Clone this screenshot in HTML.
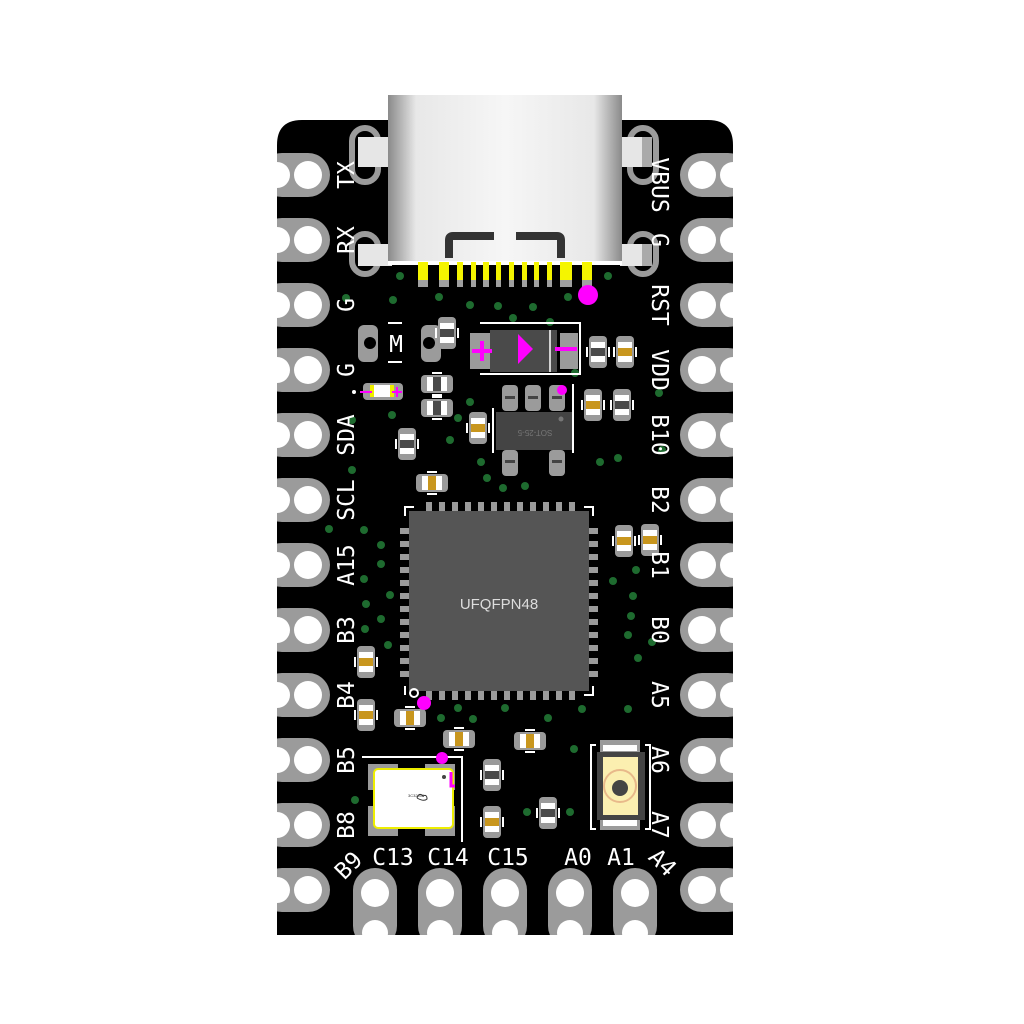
<!DOCTYPE html>
<html><head><meta charset="utf-8"><style>
html,body{margin:0;padding:0;background:#fff;}
svg{display:block}
.t{font-family:"DejaVu Sans Mono","Liberation Mono",monospace;font-size:23px;fill:#fff;}
</style></head><body>
<svg width="1024" height="1024" viewBox="0 0 1024 1024" xmlns="http://www.w3.org/2000/svg">
<defs>
<g id="cv"><rect x="-9" y="-16" width="18" height="32" rx="4" fill="#9a9a9a"/><rect x="-7" y="-10" width="14" height="6" fill="#fff"/><rect x="-7" y="4" width="14" height="6" fill="#fff"/><rect x="-12" y="-5" width="2" height="10" fill="#fff"/><rect x="10" y="-5" width="2" height="10" fill="#fff"/></g>
<g id="gv"><use href="#cv"/><rect x="-7" y="-4" width="14" height="8" fill="#c8961e"/></g>
<g id="dv"><use href="#cv"/><rect x="-7" y="-4" width="14" height="8" fill="#4a4a4a"/></g>
<g id="gh"><g transform="rotate(90)"><use href="#gv"/></g></g>
<g id="dh"><g transform="rotate(90)"><use href="#dv"/></g></g>
<g id="lp"><rect x="260" y="-22" width="70" height="44" rx="22" fill="#9b9b9b"/><circle cx="308" cy="0" r="14" fill="#fff"/><circle cx="277" cy="0" r="13" fill="#fff"/></g>
<g id="rp"><rect x="680" y="-22" width="70" height="44" rx="22" fill="#9b9b9b"/><circle cx="702" cy="0" r="14" fill="#fff"/><circle cx="733" cy="0" r="13" fill="#fff"/></g>
<g id="bp"><rect x="-22" y="868" width="44" height="80" rx="22" fill="#9b9b9b"/><circle cx="0" cy="893" r="14" fill="#fff"/><circle cx="0" cy="933" r="13" fill="#fff"/></g>
<linearGradient id="usb" x1="0" x2="1" y1="0" y2="0"><stop offset="0" stop-color="#8a8a8a"/><stop offset="0.12" stop-color="#e8e8e8"/><stop offset="0.5" stop-color="#f6f6f6"/><stop offset="0.88" stop-color="#e8e8e8"/><stop offset="1" stop-color="#8a8a8a"/></linearGradient>
</defs>
<rect width="1024" height="1024" fill="#fff"/>
<path d="M277 145 Q277 120 302 120 L708 120 Q733 120 733 145 L733 935 L277 935 Z" fill="#000"/>
<g>
<use href="#lp" y="175"/><use href="#lp" y="240"/><use href="#lp" y="305"/><use href="#lp" y="370"/><use href="#lp" y="435"/><use href="#lp" y="500"/><use href="#lp" y="565"/><use href="#lp" y="630"/><use href="#lp" y="695"/><use href="#lp" y="760"/><use href="#lp" y="825"/><use href="#lp" y="890"/>
<use href="#rp" y="175"/><use href="#rp" y="240"/><use href="#rp" y="305"/><use href="#rp" y="370"/><use href="#rp" y="435"/><use href="#rp" y="500"/><use href="#rp" y="565"/><use href="#rp" y="630"/><use href="#rp" y="695"/><use href="#rp" y="760"/><use href="#rp" y="825"/><use href="#rp" y="890"/>
<use href="#bp" x="375"/><use href="#bp" x="440"/><use href="#bp" x="505"/><use href="#bp" x="570"/><use href="#bp" x="635"/>
</g>
<rect x="0" y="935" width="1024" height="89" fill="#fff"/>
<rect x="0" y="0" width="277" height="1024" fill="#fff"/><rect x="733" y="0" width="291" height="1024" fill="#fff"/>
<g>
<rect x="352" y="128" width="26" height="54" rx="13" fill="none" stroke="#9b9b9b" stroke-width="6"/>
<rect x="352" y="234" width="26" height="40" rx="13" fill="none" stroke="#9b9b9b" stroke-width="6"/>
<rect x="630" y="128" width="26" height="54" rx="13" fill="none" stroke="#9b9b9b" stroke-width="6"/>
<rect x="630" y="234" width="26" height="40" rx="13" fill="none" stroke="#9b9b9b" stroke-width="6"/>
<rect x="358" y="137" width="34" height="30" fill="#e6e6e6"/><rect x="358" y="244" width="34" height="22" fill="#e6e6e6"/>
<rect x="620" y="137" width="32" height="30" fill="#e6e6e6"/><rect x="620" y="244" width="32" height="22" fill="#e6e6e6"/>
<rect x="642" y="137" width="10" height="30" fill="#aaa"/><rect x="642" y="244" width="10" height="22" fill="#aaa"/>
</g>
<rect x="388" y="95" width="234" height="170" fill="url(#usb)"/>
<rect x="388" y="261" width="234" height="4" fill="#fff"/>
<path d="M449 258 L449 240 Q449 236 453 236 L494 236" stroke="#333" stroke-width="8" fill="none"/>
<path d="M516 236 L557 236 Q561 236 561 240 L561 258" stroke="#333" stroke-width="8" fill="none"/>
<g fill="#a0a0a0">
<rect x="418" y="265" width="10" height="22"/><rect x="439" y="265" width="10" height="22"/><rect x="457" y="265" width="6" height="22"/><rect x="471" y="265" width="5" height="22"/><rect x="483" y="265" width="6" height="22"/><rect x="496" y="265" width="5" height="22"/><rect x="509" y="265" width="5" height="22"/><rect x="522" y="265" width="5" height="22"/><rect x="534" y="265" width="5" height="22"/><rect x="547" y="265" width="5" height="22"/><rect x="560" y="265" width="12" height="22"/><rect x="582" y="265" width="10" height="22"/>
</g>
<g fill="#f5f500">
<rect x="418" y="262" width="10" height="18"/><rect x="439" y="262" width="10" height="18"/><rect x="457" y="262" width="6" height="18"/><rect x="471" y="262" width="5" height="18"/><rect x="483" y="262" width="6" height="18"/><rect x="496" y="262" width="5" height="18"/><rect x="509" y="262" width="5" height="18"/><rect x="522" y="262" width="5" height="18"/><rect x="534" y="262" width="5" height="18"/><rect x="547" y="262" width="5" height="18"/><rect x="560" y="262" width="12" height="18"/><rect x="582" y="262" width="10" height="18"/>
</g>
<circle cx="588" cy="295" r="10" fill="#f0f"/>
<g fill="#1e6b2f">
<circle cx="400" cy="276" r="4"/><circle cx="393" cy="300" r="4"/><circle cx="439" cy="297" r="4"/><circle cx="470" cy="305" r="4"/><circle cx="498" cy="306" r="4"/><circle cx="533" cy="307" r="4"/><circle cx="568" cy="297" r="4"/><circle cx="608" cy="276" r="4"/><circle cx="513" cy="318" r="4"/><circle cx="550" cy="322" r="4"/><circle cx="575" cy="373" r="4"/>
<circle cx="346" cy="298" r="4"/><circle cx="470" cy="402" r="4"/><circle cx="392" cy="415" r="4"/><circle cx="352" cy="420" r="4"/><circle cx="458" cy="418" r="4"/><circle cx="450" cy="440" r="4"/><circle cx="481" cy="462" r="4"/><circle cx="487" cy="478" r="4"/><circle cx="503" cy="488" r="4"/><circle cx="525" cy="486" r="4"/><circle cx="352" cy="470" r="4"/><circle cx="600" cy="462" r="4"/><circle cx="618" cy="458" r="4"/><circle cx="659" cy="393" r="4"/><circle cx="662" cy="450" r="4"/>
<circle cx="329" cy="529" r="4"/><circle cx="364" cy="530" r="4"/><circle cx="381" cy="545" r="4"/><circle cx="381" cy="564" r="4"/><circle cx="364" cy="579" r="4"/><circle cx="390" cy="595" r="4"/><circle cx="366" cy="604" r="4"/><circle cx="381" cy="619" r="4"/><circle cx="365" cy="629" r="4"/><circle cx="388" cy="645" r="4"/>
<circle cx="636" cy="570" r="4"/><circle cx="613" cy="581" r="4"/><circle cx="633" cy="596" r="4"/><circle cx="631" cy="616" r="4"/><circle cx="628" cy="635" r="4"/><circle cx="652" cy="642" r="4"/><circle cx="638" cy="658" r="4"/><circle cx="628" cy="709" r="4"/><circle cx="582" cy="709" r="4"/><circle cx="548" cy="718" r="4"/><circle cx="505" cy="708" r="4"/><circle cx="458" cy="708" r="4"/><circle cx="441" cy="718" r="4"/><circle cx="473" cy="719" r="4"/><circle cx="574" cy="749" r="4"/><circle cx="355" cy="800" r="4"/><circle cx="527" cy="812" r="4"/><circle cx="570" cy="812" r="4"/>
</g>
<rect x="358" y="325" width="20" height="37" rx="6" fill="#9b9b9b"/><rect x="421" y="325" width="20" height="37" rx="6" fill="#9b9b9b"/>
<circle cx="370" cy="343" r="6" fill="#000"/><circle cx="429" cy="343" r="6" fill="#000"/>
<line x1="388" y1="323" x2="402" y2="323" stroke="#fff" stroke-width="2"/><line x1="388" y1="362" x2="402" y2="362" stroke="#fff" stroke-width="2"/>
<text class="t" x="396" y="352" text-anchor="middle" font-size="20">M</text>
<path d="M480 323 L580 323 L580 374 L480 374" stroke="#fff" stroke-width="2" fill="none"/>
<rect x="470" y="333" width="20" height="36" fill="#9b9b9b"/><rect x="560" y="333" width="18" height="36" fill="#9b9b9b"/>
<rect x="490" y="330" width="67" height="42" fill="#4a4a4a"/><line x1="550" y1="330" x2="550" y2="372" stroke="#fff" stroke-width="1.5"/>
<path d="M472 351 L492 351 M482 341 L482 361" stroke="#f0f" stroke-width="4"/>
<path d="M518 334 L533 349 L518 364 Z" fill="#f0f"/>
<path d="M555 349 L577 349" stroke="#f0f" stroke-width="4"/>
<circle cx="354" cy="392" r="2" fill="#fff"/>
<rect x="363" y="383" width="40" height="17" rx="4" fill="#9b9b9b"/><rect x="370" y="385" width="24" height="12" fill="#fff"/><rect x="370" y="385" width="4" height="12" fill="#ee0"/><rect x="390" y="385" width="4" height="12" fill="#ee0"/>
<path d="M360 392 L372 392 M392 392 L402 392 M397 387 L397 397" stroke="#f0f" stroke-width="2"/>
<g fill="#9b9b9b"><rect x="502" y="385" width="16" height="26" rx="4"/><rect x="525" y="385" width="16" height="26" rx="4"/><rect x="549" y="385" width="16" height="26" rx="4"/><rect x="502" y="450" width="16" height="26" rx="4"/><rect x="549" y="450" width="16" height="26" rx="4"/></g>
<g fill="#444"><rect x="505" y="396" width="10" height="3"/><rect x="528" y="396" width="10" height="3"/><rect x="552" y="396" width="10" height="3"/><rect x="505" y="460" width="10" height="3"/><rect x="552" y="460" width="10" height="3"/></g>
<rect x="496" y="412" width="78" height="38" fill="#444"/>
<circle cx="561" cy="419" r="2.5" fill="#777"/>
<text x="535" y="436" font-family="Liberation Sans,sans-serif" font-size="8" fill="#777" text-anchor="middle" transform="rotate(180 535 433)">SOT-25-5</text>
<line x1="493" y1="408" x2="493" y2="453" stroke="#fff" stroke-width="2"/><line x1="573" y1="384" x2="573" y2="453" stroke="#fff" stroke-width="2"/>
<circle cx="562" cy="390" r="5" fill="#f0f"/>
<use href="#dv" x="447" y="333"/><use href="#dv" x="598" y="352"/><use href="#gv" x="625" y="352"/>
<use href="#gv" x="593" y="405"/><use href="#dv" x="622" y="405"/><use href="#dv" x="407" y="444"/><use href="#gv" x="478" y="428"/>
<use href="#gv" x="366" y="662"/><use href="#gv" x="366" y="715"/><use href="#dv" x="492" y="775"/><use href="#gv" x="492" y="822"/><use href="#dv" x="548" y="813"/>
<use href="#gv" x="624" y="541"/><use href="#gv" x="650" y="540"/>
<use href="#dh" x="437" y="384"/><use href="#dh" x="437" y="408"/><use href="#gh" x="432" y="483"/>
<use href="#gh" x="410" y="718"/><use href="#gh" x="459" y="739"/><use href="#gh" x="530" y="741"/>
<g fill="#9b9b9b">
<g id="tp"><rect x="426" y="502" width="6" height="10"/><rect x="439" y="502" width="6" height="10"/><rect x="452" y="502" width="6" height="10"/><rect x="465" y="502" width="6" height="10"/><rect x="478" y="502" width="6" height="10"/><rect x="491" y="502" width="6" height="10"/><rect x="504" y="502" width="6" height="10"/><rect x="517" y="502" width="6" height="10"/><rect x="530" y="502" width="6" height="10"/><rect x="543" y="502" width="6" height="10"/><rect x="556" y="502" width="6" height="10"/><rect x="569" y="502" width="6" height="10"/></g>
<use href="#tp" y="188"/>
<g transform="rotate(90 499 601)"><use href="#tp"/><use href="#tp" y="188"/></g>
</g>
<rect x="409" y="511" width="180" height="180" fill="#555"/>
<path d="M405 516 L405 507 L414 507 M584 507 L593 507 L593 516 M405 686 L405 695 M593 686 L593 695 L584 695" stroke="#fff" stroke-width="2" fill="none"/>
<circle cx="414" cy="693" r="4" fill="none" stroke="#fff" stroke-width="2"/>
<circle cx="424" cy="703" r="7" fill="#f0f"/>
<text x="499" y="609" font-family="Liberation Sans,sans-serif" font-size="15" fill="#ddd" text-anchor="middle">UFQFPN48</text>
<path d="M362 757 L462 757 L462 842" stroke="#fff" stroke-width="2" fill="none"/>
<rect x="368" y="764" width="30" height="26" fill="#9b9b9b"/><rect x="425" y="764" width="30" height="26" fill="#9b9b9b"/><rect x="368" y="806" width="30" height="30" fill="#9b9b9b"/><rect x="425" y="806" width="30" height="30" fill="#9b9b9b"/>
<rect x="374" y="769" width="79" height="59" rx="4" fill="#fff" stroke="#ee0" stroke-width="2"/>
<circle cx="444" cy="777" r="2" fill="#444"/>
<path d="M451 772 L451 786 L455 786" stroke="#f0f" stroke-width="3" fill="none"/>
<circle cx="442" cy="758" r="6" fill="#f0f"/>
<text x="408" y="797" font-family="Liberation Sans,sans-serif" font-size="4" fill="#333">3C32000</text>
<path d="M417 798 q2 -6 6 -2 q4 -2 4 3 q-3 3 -10 -1" stroke="#333" fill="none"/>
<path d="M596 745 L591 745 L591 829 L596 829 M645 745 L650 745 L650 829 L645 829" stroke="#fff" stroke-width="2" fill="none"/>
<rect x="600" y="740" width="40" height="90" fill="#9b9b9b"/>
<rect x="603" y="745" width="34" height="6" fill="#fff"/><rect x="603" y="819" width="34" height="7" fill="#fff"/>
<rect x="597" y="752" width="48" height="68" fill="#444"/>
<rect x="603" y="757" width="35" height="58" fill="#fbefb0"/>
<circle cx="620" cy="786" r="16" fill="none" stroke="#e8b98a" stroke-width="2"/>
<circle cx="620" cy="788" r="8" fill="#444"/>
<g class="t">
<text transform="translate(354 175) rotate(-90)" text-anchor="middle">TX</text>
<text transform="translate(354 240) rotate(-90)" text-anchor="middle">RX</text>
<text transform="translate(354 305) rotate(-90)" text-anchor="middle">G</text>
<text transform="translate(354 370) rotate(-90)" text-anchor="middle">G</text>
<text transform="translate(354 435) rotate(-90)" text-anchor="middle">SDA</text>
<text transform="translate(354 500) rotate(-90)" text-anchor="middle">SCL</text>
<text transform="translate(354 565) rotate(-90)" text-anchor="middle">A15</text>
<text transform="translate(354 630) rotate(-90)" text-anchor="middle">B3</text>
<text transform="translate(354 695) rotate(-90)" text-anchor="middle">B4</text>
<text transform="translate(354 760) rotate(-90)" text-anchor="middle">B5</text>
<text transform="translate(354 825) rotate(-90)" text-anchor="middle">B8</text>
<text transform="translate(652 185) rotate(90)" text-anchor="middle">VBUS</text>
<text transform="translate(652 240) rotate(90)" text-anchor="middle">G</text>
<text transform="translate(652 305) rotate(90)" text-anchor="middle">RST</text>
<text transform="translate(652 370) rotate(90)" text-anchor="middle">VDD</text>
<text transform="translate(652 435) rotate(90)" text-anchor="middle">B10</text>
<text transform="translate(652 500) rotate(90)" text-anchor="middle">B2</text>
<text transform="translate(652 565) rotate(90)" text-anchor="middle">B1</text>
<text transform="translate(652 630) rotate(90)" text-anchor="middle">B0</text>
<text transform="translate(652 695) rotate(90)" text-anchor="middle">A5</text>
<text transform="translate(652 760) rotate(90)" text-anchor="middle">A6</text>
<text transform="translate(652 825) rotate(90)" text-anchor="middle">A7</text>
<text transform="translate(354 871) rotate(-45)" text-anchor="middle">B9</text>
<text x="393" y="865" text-anchor="middle">C13</text>
<text x="448" y="865" text-anchor="middle">C14</text>
<text x="508" y="865" text-anchor="middle">C15</text>
<text x="578" y="865" text-anchor="middle">A0</text>
<text x="621" y="865" text-anchor="middle">A1</text>
<text transform="translate(657 868) rotate(45)" text-anchor="middle">A4</text>
</g>
</svg>
</body></html>
